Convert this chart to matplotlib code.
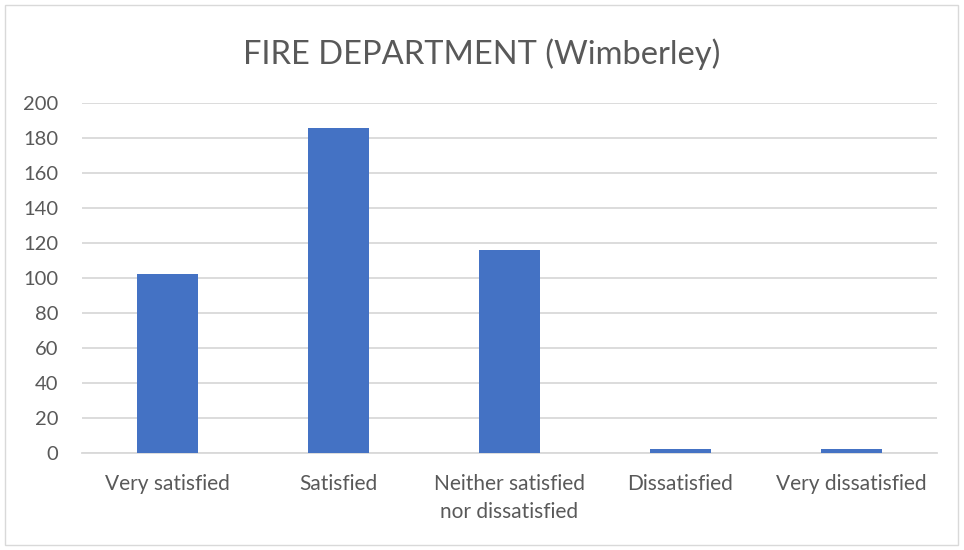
import matplotlib.pyplot as plt
from matplotlib.patches import Rectangle

categories = ["Very satisfied", "Satisfied", "Neither satisfied\nnor dissatisfied",
              "Dissatisfied", "Very dissatisfied"]
counts = [102, 186, 116, 2, 2]
y_ticks = [0, 20, 40, 60, 80, 100, 120, 140, 160, 180, 200]

plt.rcParams['font.family'] = ['Lato', 'DejaVu Sans']
text_col = "#595959"

fig = plt.figure(figsize=(9.64, 5.5), dpi=100)
ax = fig.add_axes([0.085, 0.1764, 0.887, 0.6363])

x = range(len(categories))
ax.bar(x, counts, width=0.357, color="#4472C4", zorder=3)

ax.set_xlim(-0.5, len(categories) - 0.5)
ax.set_ylim(0, 200)
ax.set_yticks(y_ticks)
ax.set_xticks(list(x))
ax.set_xticklabels(categories, fontsize=15, color=text_col, linespacing=1.5)
ax.tick_params(axis="y", labelsize=14.5, labelcolor=text_col, length=0, pad=17)
ax.tick_params(axis="x", length=0, pad=15)
ax.grid(axis="y", color="#D9D9D9", linewidth=1.3, zorder=0)
for s in ["top", "right", "left"]:
    ax.spines[s].set_visible(False)
ax.spines["bottom"].set_color("#D9D9D9")
ax.spines["bottom"].set_linewidth(1.3)

fig.text(0.5, 0.902, "FIRE DEPARTMENT (Wimberley)", ha="center", va="center",
         fontsize=23.5, color=text_col)

# outer chart border
fig.patches.append(Rectangle((5 / 964, 5 / 550), 953 / 964, 540 / 550,
                             transform=fig.transFigure, fill=False,
                             edgecolor="#D9D9D9", linewidth=1))

fig.savefig("out.png", dpi=100)
